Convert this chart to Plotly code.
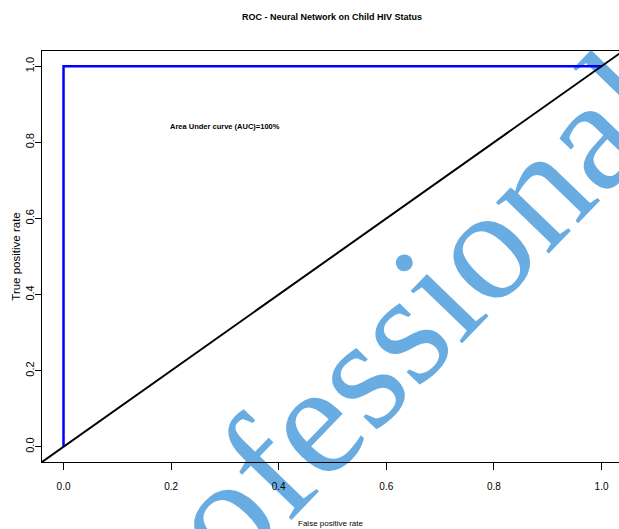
import plotly.graph_objects as go

# ROC curve data
fpr = [0.0, 0.0, 1.0]
tpr = [0.0, 1.0, 1.0]
# reference diagonal (abline 0,1) across the full plotting region
diag_x = [-0.04, 1.04]
diag_y = [-0.04, 1.04]
tick_vals = [0.0, 0.2, 0.4, 0.6, 0.8, 1.0]
tick_text = ["0.0", "0.2", "0.4", "0.6", "0.8", "1.0"]
title_text = "ROC - Neural Network on Child HIV Status"
auc_text = "Area Under curve (AUC)=100%"
auc_pos = (0.30, 0.842)
watermark_text = "Professional"

sans = "Liberation Sans, Arial, Helvetica, sans-serif"

# plot area in pixels
L, R, T, B = 42, 619, 51, 462
W, H = 619, 529

fig = go.Figure()
fig.add_trace(go.Scatter(x=fpr, y=tpr, mode="lines",
                         line=dict(color="#0000ff", width=2.5), showlegend=False))
fig.add_trace(go.Scatter(x=diag_x, y=diag_y, mode="lines",
                         line=dict(color="black", width=2), showlegend=False))

fig.add_annotation(x=auc_pos[0], y=auc_pos[1], text="<b>" + auc_text + "</b>",
                   showarrow=False, font=dict(family=sans, size=7.5, color="black"))

# watermark, drawn beneath the curves
cx, cy = 337, 386
fx, fy = cx / W, 1 - cy / H
fig.add_shape(type="rect", xref="paper", yref="paper",
              x0=fx - 0.01, x1=fx + 0.01, y0=fy - 0.01, y1=fy + 0.01,
              line=dict(width=0), fillcolor="rgba(0,0,0,0)", layer="below",
              label=dict(text=watermark_text, textangle=-46, textposition="middle center",
                         font=dict(family="Liberation Serif, Times New Roman, serif", size=160,
                                   color="rgb(105,172,226)")))

fig.update_layout(
    width=W, height=H,
    margin=dict(l=L, r=W - R, t=T, b=H - B, autoexpand=False),
    paper_bgcolor="white", plot_bgcolor="rgba(0,0,0,0)",
    title=dict(text="<b>" + title_text + "</b>", x=332 / W, xanchor="center",
               y=1 - 17 / H, yanchor="middle",
               font=dict(family=sans, size=9, color="black")),
)
fig.update_xaxes(range=[-0.04, -0.04 + (R - L) / 538], tickvals=tick_vals, ticktext=tick_text,
                 showgrid=False, zeroline=False, showline=True, mirror=True,
                 linecolor="black", linewidth=1, ticks="outside", ticklen=7,
                 tickcolor="black", ticklabelstandoff=8,
                 tickfont=dict(family=sans, size=10, color="black"),
                 title=dict(text="False positive rate", standoff=29,
                            font=dict(family=sans, size=8, color="black")))
fig.update_yaxes(range=[-0.04, 1.04], tickvals=tick_vals, ticktext=tick_text,
                 showgrid=False, zeroline=False, showline=True, mirror=False,
                 linecolor="black", linewidth=1, ticks="outside", ticklen=6,
                 tickcolor="black", tickangle=-90, ticklabelstandoff=-3,
                 tickfont=dict(family=sans, size=11, color="black"),
                 title=dict(text="True positive rate", standoff=0,
                            font=dict(family=sans, size=11.5, color="black")))

fig.write_html("out.html", config={"displayModeBar": False},
               post_script="document.body.style.margin='0';document.body.style.overflow='hidden';")
